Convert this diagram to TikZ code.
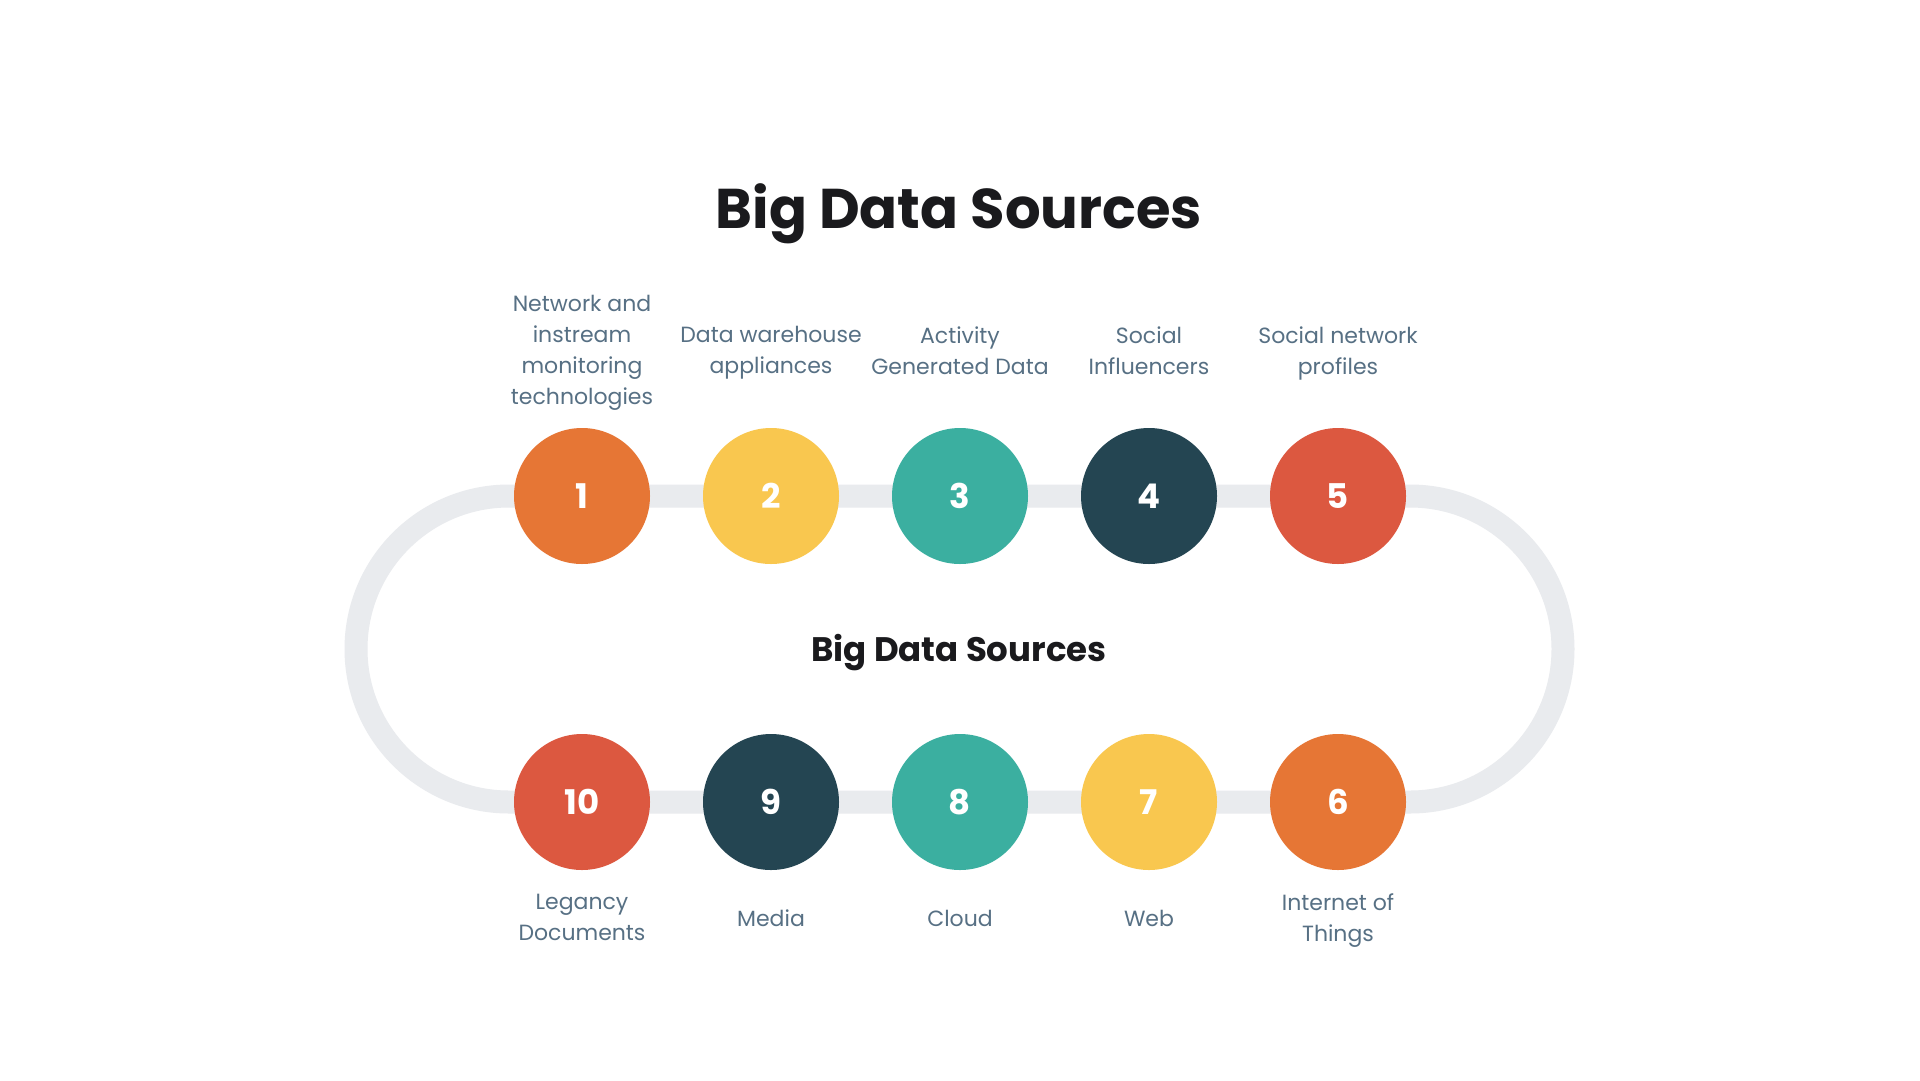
\documentclass[tikz,border=0pt]{standalone}
\usepackage{fontspec}
\setmainfont{Poppins}
\definecolor{cOrange}{HTML}{E67635}
\definecolor{cYellow}{HTML}{F9C74F}
\definecolor{cTeal}{HTML}{3BAFA0}
\definecolor{cDark}{HTML}{244552}
\definecolor{cRed}{HTML}{DC5840}
\definecolor{cTrack}{HTML}{E9EBEE}
\definecolor{cLabel}{HTML}{577084}
\definecolor{cTitle}{HTML}{1A1A1D}
\tikzset{
  dot/.style={circle, minimum size=136pt, inner sep=0pt, text=white, font=\fontsize{34}{40}\selectfont\bfseries},
  lbl/.style={anchor=center, align=center, text=cLabel, font=\fontsize{22}{31}\selectfont, inner sep=0pt,
    execute at begin node=\strut, execute at end node=\strut},
}
\begin{document}
\begin{tikzpicture}[x=1pt,y=-1pt]
\useasboundingbox (0,0) rectangle (1920,1080);
\fill[white] (0,0) rectangle (1920,1080);
% track
\draw[cTrack, line width=23pt, rounded corners=153pt] (356,496) rectangle (1563,802);
% titles
\node[text=cTitle, font=\fontsize{56}{64}\selectfont\bfseries] (title) at (959,214) {Big Data Sources};
\node[text=cTitle, font=\fontsize{34}{40}\selectfont\bfseries] (center) at (959,653) {Big Data Sources};
% top row
\node[dot, fill=cOrange] (n1) at (582,496) {1};
\node[dot, fill=cYellow] (n2) at (771,496) {2};
\node[dot, fill=cTeal] (n3) at (960,496) {3};
\node[dot, fill=cDark] (n4) at (1149,496) {4};
\node[dot, fill=cRed] (n5) at (1338,496) {5};
% bottom row
\node[dot, fill=cRed] (n10) at (582,802) {10};
\node[dot, fill=cDark] (n9) at (771,802) {9};
\node[dot, fill=cTeal] (n8) at (960,802) {8};
\node[dot, fill=cYellow] (n7) at (1149,802) {7};
\node[dot, fill=cOrange] (n6) at (1338,802) {6};
% top labels
\node[lbl] (l1) at (582,355) {Network and\\instream\\monitoring\\technologies};
\node[lbl] (l2) at (771,355) {Data warehouse\\appliances};
\node[lbl] (l3) at (960,355) {Activity\\Generated Data};
\node[lbl] (l4) at (1149,355) {Social\\Influencers};
\node[lbl] (l5) at (1338,355) {Social network\\profiles};
% bottom labels
\node[lbl] (l10) at (582,922) {Legancy\\Documents};
\node[lbl] (l9) at (771,920) {Media};
\node[lbl] (l8) at (960,920) {Cloud};
\node[lbl] (l7) at (1149,920) {Web};
\node[lbl] (l6) at (1338,922) {Internet of\\Things};
\end{tikzpicture}
\end{document}
